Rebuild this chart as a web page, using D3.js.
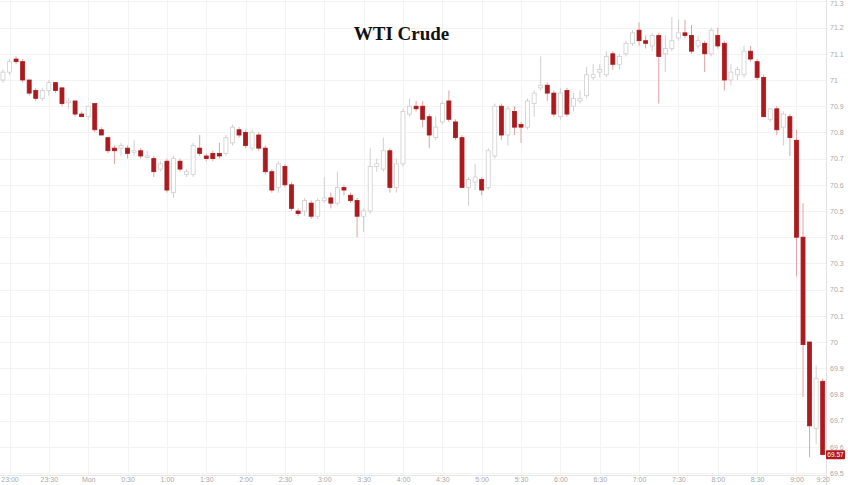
<!DOCTYPE html>
<html><head><meta charset="utf-8">
<script src="https://cdn.jsdelivr.net/npm/d3@7"></script>
<style>
html,body{margin:0;padding:0;background:#fff;}
svg{display:block;}
</style></head>
<body><svg id="c" width="848" height="485"></svg>
<script>
// ---- data ----
const times = ["22:55","23:00","23:05","23:10","23:15","23:20","23:25","23:30","23:35","23:40","23:45","23:50","23:55",
"0:00","0:05","0:10","0:15","0:20","0:25","0:30","0:35","0:40","0:45","0:50","0:55",
"1:00","1:05","1:10","1:15","1:20","1:25","1:30","1:35","1:40","1:45","1:50","1:55",
"2:00","2:05","2:10","2:15","2:20","2:25","2:30","2:35","2:40","2:45","2:50","2:55",
"3:00","3:05","3:10","3:15","3:20","3:25","3:30","3:35","3:40","3:45","3:50","3:55",
"4:00","4:05","4:10","4:15","4:20","4:25","4:30","4:35","4:40","4:45","4:50","4:55",
"5:00","5:05","5:10","5:15","5:20","5:25","5:30","5:35","5:40","5:45","5:50","5:55",
"6:00","6:05","6:10","6:15","6:20","6:25","6:30","6:35","6:40","6:45","6:50","6:55",
"7:00","7:05","7:10","7:15","7:20","7:25","7:30","7:35","7:40","7:45","7:50","7:55",
"8:00","8:05","8:10","8:15","8:20","8:25","8:30","8:35","8:40","8:45","8:50","8:55",
"9:00","9:05","9:10","9:15","9:20"];
const open = [71.00,71.03,71.08,71.07,71.00,70.96,70.93,70.96,70.99,70.97,70.92,70.92,70.87,
70.86,70.91,70.81,70.78,70.74,70.74,70.74,70.73,70.73,70.71,70.70,70.66,
70.69,70.57,70.69,70.64,70.64,70.74,70.71,70.72,70.72,70.72,70.76,70.81,
70.80,70.74,70.79,70.74,70.65,70.59,70.67,70.60,70.50,70.50,70.53,70.48,
70.54,70.55,70.53,70.59,70.56,70.54,70.48,70.50,70.67,70.66,70.73,70.59,
70.68,70.87,70.90,70.90,70.86,70.78,70.84,70.92,70.84,70.78,70.59,70.61,
70.62,70.59,70.71,70.90,70.79,70.88,70.83,70.82,70.91,70.97,70.98,70.95,
70.86,70.96,70.90,70.92,70.94,71.01,71.03,71.02,71.10,71.06,71.10,71.14,
71.19,71.15,71.13,71.17,71.10,71.12,71.16,71.18,71.17,71.13,71.14,71.10,
71.17,71.14,71.00,71.02,71.02,71.11,71.07,71.01,70.85,70.89,70.82,70.86,
70.77,70.40,70.00,69.67,69.85];
const high = [71.04,71.08,71.09,71.08,71.00,70.97,70.97,71.00,70.99,70.97,70.93,70.92,70.88,
70.90,70.91,70.82,70.78,70.75,70.76,70.75,70.77,70.74,70.73,70.71,70.69,
70.70,70.71,70.70,70.66,70.76,70.79,70.72,70.73,70.76,70.79,70.83,70.82,
70.81,70.81,70.80,70.75,70.66,70.69,70.68,70.61,70.51,70.55,70.54,70.55,
70.63,70.57,70.65,70.60,70.57,70.55,70.51,70.74,70.70,70.78,70.74,70.70,
70.89,70.93,70.92,70.92,70.87,70.86,70.92,70.96,70.85,70.79,70.63,70.68,
70.63,70.74,70.91,70.91,70.90,70.90,70.84,70.93,70.96,71.09,70.99,70.96,
70.97,70.97,70.95,70.96,71.05,71.06,71.06,71.11,71.11,71.10,71.15,71.19,
71.22,71.17,71.18,71.18,71.17,71.24,71.23,71.23,71.21,71.17,71.15,71.20,
71.20,71.15,71.06,71.05,71.13,71.13,71.08,71.02,70.89,70.90,70.88,70.87,
70.81,70.53,70.00,69.91,69.86];
const low = [70.99,71.02,71.06,70.99,70.94,70.92,70.92,70.94,70.95,70.90,70.89,70.86,70.86,
70.85,70.80,70.79,70.72,70.68,70.71,70.70,70.71,70.70,70.70,70.63,70.65,
70.57,70.55,70.65,70.63,70.63,70.71,70.69,70.69,70.70,70.71,70.75,70.78,
70.74,70.73,70.73,70.64,70.57,70.57,70.59,70.50,70.48,70.48,70.47,70.47,
70.53,70.51,70.52,70.56,70.53,70.40,70.42,70.49,70.65,70.65,70.57,70.57,
70.67,70.86,70.88,70.82,70.74,70.77,70.83,70.84,70.77,70.59,70.52,70.58,
70.56,70.58,70.70,70.77,70.75,70.79,70.76,70.81,70.86,70.96,70.92,70.86,
70.85,70.86,70.88,70.91,70.93,71.00,71.01,71.01,71.04,71.04,71.09,71.13,
71.13,71.12,71.11,70.91,71.03,71.11,71.15,71.16,71.10,71.12,71.03,71.09,
71.12,70.96,70.98,71.00,71.01,71.07,71.00,70.86,70.84,70.79,70.75,70.71,
70.25,69.79,69.56,69.61,69.57];
const close = [71.03,71.07,71.07,71.00,70.95,70.93,70.96,70.99,70.96,70.91,70.92,70.87,70.86,
70.90,70.81,70.79,70.73,70.73,70.75,70.72,70.73,70.71,70.71,70.65,70.68,
70.58,70.70,70.66,70.65,70.75,70.72,70.70,70.70,70.71,70.78,70.82,70.79,
70.75,70.80,70.74,70.65,70.58,70.68,70.60,70.51,70.49,70.54,70.48,70.54,
70.55,70.53,70.59,70.58,70.54,70.48,70.50,70.67,70.68,70.73,70.59,70.68,
70.88,70.90,70.89,70.85,70.79,70.82,70.91,70.85,70.78,70.59,70.62,70.63,
70.58,70.73,70.90,70.79,70.89,70.82,70.82,70.92,70.95,70.98,70.95,70.87,
70.95,70.87,70.93,70.93,71.02,71.02,71.04,71.09,71.06,71.09,71.14,71.18,
71.15,71.14,71.17,71.09,71.12,71.15,71.18,71.17,71.11,71.15,71.10,71.19,
71.13,71.00,71.03,71.04,71.11,71.08,71.01,70.86,70.89,70.81,70.87,70.78,
70.40,69.99,69.68,69.86,69.57];
const yTicks = [69.5,69.6,69.7,69.8,69.9,70,70.1,70.2,70.3,70.4,70.5,70.6,70.7,70.8,70.9,71,71.1,71.2,71.3];
const xTickTimes = ["23:00","23:30","0:00","0:30","1:00","1:30","2:00","2:30","3:00","3:30","4:00","4:30","5:00","5:30","6:00","6:30","7:00","7:30","8:00","8:30","9:00","9:20"];
const xTickLabels = ["23:00","23:30","Mon","0:30","1:00","1:30","2:00","2:30","3:00","3:30","4:00","4:30","5:00","5:30","6:00","6:30","7:00","7:30","8:00","8:30","9:00","9:20"];
const title = "WTI Crude";
const lastPrice = "69.57";

// ---- helpers ----
function toDate(t){
  const [h,m] = t.split(":").map(Number);
  return h >= 12 ? new Date(2024,0,7,h,m) : new Date(2024,0,8,h,m);
}
const data = times.map((t,i)=>({t:toDate(t),o:open[i],h:high[i],l:low[i],c:close[i]}));

const svg = d3.select("#c");
const plotRight = 826, plotBottom = 475;
const x = d3.scaleTime().domain([toDate("22:55"), toDate("9:20")]).range([2.95, 822.7]);
const y = d3.scaleLinear().domain([69.5, 71.3]).range([473, 1.4]);

svg.append("rect").attr("width",848).attr("height",485).attr("fill","#fff");

// grid
const g = svg.append("g");
g.selectAll(".hg").data(yTicks).join("line")
  .attr("x1",0).attr("x2",plotRight).attr("y1",d=>Math.round(y(d))+0.5).attr("y2",d=>Math.round(y(d))+0.5)
  .attr("stroke","#f3f3f3").attr("stroke-width",1);
g.selectAll(".vg").data(xTickTimes.slice(0,-1)).join("line")
  .attr("x1",d=>Math.round(x(toDate(d)))+0.5).attr("x2",d=>Math.round(x(toDate(d)))+0.5)
  .attr("y1",0).attr("y2",plotBottom).attr("stroke","#f3f3f3").attr("stroke-width",1);

// axis lines
svg.append("line").attr("x1",plotRight+0.5).attr("x2",plotRight+0.5).attr("y1",0).attr("y2",485)
  .attr("stroke","#e2e2e2");
svg.append("line").attr("x1",0).attr("x2",plotRight).attr("y1",plotBottom+0.5).attr("y2",plotBottom+0.5)
  .attr("stroke","#e6e6e6");

// y axis
const yAxis = d3.axisRight(y).tickValues(yTicks).tickSize(0).tickPadding(0)
  .tickFormat(d=>d3.format("")(+d.toFixed(1)));
const ya = svg.append("g").attr("transform",`translate(${plotRight+4},0)`).call(yAxis);
ya.select(".domain").remove();
ya.selectAll("text").attr("fill","#a8a8a8").attr("font-size","7px").attr("font-family","Liberation Sans, Arial, sans-serif");
ya.selectAll(".tick").filter(d=>d===71.3).select("text").attr("dy","0.62em");

// x axis
const xAxis = d3.axisBottom(x).tickValues(xTickTimes.map(toDate)).tickSize(0).tickPadding(0)
  .tickFormat((d,i)=>xTickLabels[i]);
const xa = svg.append("g").attr("transform",`translate(0,${plotBottom+2})`).call(xAxis);
xa.select(".domain").remove();
xa.selectAll("text").attr("fill","#a8a8a8").attr("font-size","7px").attr("font-family","Liberation Sans, Arial, sans-serif");

// candles
const bw = 4;
const red = "#ac1a1e", redWick = "#e0a3a4", grayStroke = "#cfcfcf";
const cg = svg.append("g");
cg.selectAll(".wick").data(data).join("line")
  .attr("x1",d=>x(d.t)).attr("x2",d=>x(d.t))
  .attr("y1",d=>y(d.h)).attr("y2",d=>y(d.l))
  .attr("stroke",d=>d.c<d.o?redWick:grayStroke).attr("stroke-width",1);
cg.selectAll(".body").data(data).join("rect")
  .attr("x",d=>x(d.t)-bw/2)
  .attr("y",d=>y(Math.max(d.o,d.c)))
  .attr("width",bw)
  .attr("height",d=>Math.max(1.5, Math.abs(y(d.o)-y(d.c))))
  .attr("fill",d=>d.c<d.o?red:"#fff")
  .attr("stroke",d=>d.c<d.o?red:grayStroke)
  .attr("stroke-width",0.8);

// last price label
const lp = +lastPrice;
svg.append("rect").attr("x",plotRight).attr("y",y(lp)-4.5).attr("width",19).attr("height",9)
  .attr("fill",red).attr("rx",1);
svg.append("text").attr("x",plotRight+9.5).attr("y",y(lp)+2.5).attr("text-anchor","middle")
  .attr("fill","#fff").attr("font-size","6.5px").attr("font-family","Liberation Sans, Arial, sans-serif")
  .text(lastPrice);

// title
svg.append("text").attr("x",401.5).attr("y",40).attr("text-anchor","middle")
  .attr("font-family","Liberation Serif, Times New Roman, serif").attr("font-weight","bold")
  .attr("font-size","19px").attr("fill","#111").text(title);
</script></body></html>
